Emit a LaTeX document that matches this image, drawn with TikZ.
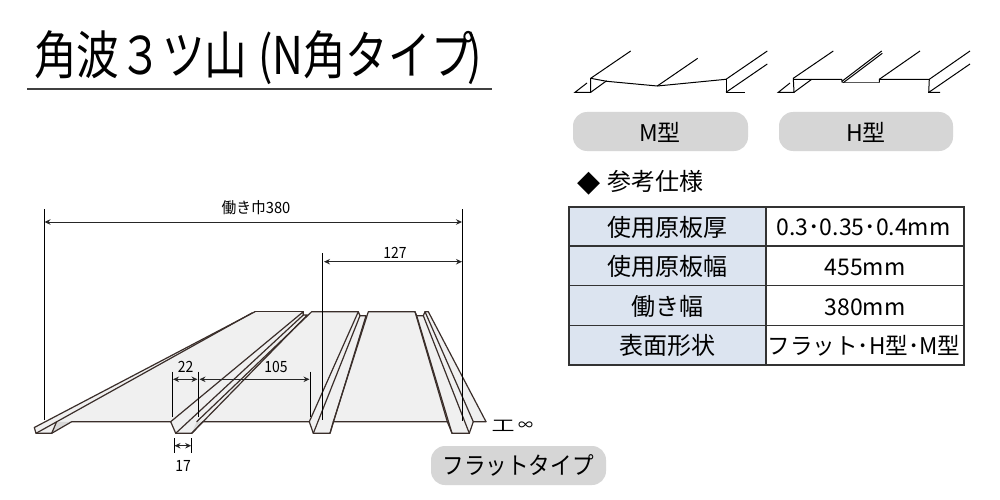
\documentclass[tikz,border=0pt]{standalone}
\usepackage{fontspec}
\usepackage{graphicx}
\setmainfont{Noto Sans CJK JP}
\usetikzlibrary{arrows.meta}
\definecolor{ink}{HTML}{3A2E2A}
\definecolor{panelgray}{HTML}{F0F0F0}
\definecolor{wedgegray}{HTML}{D8D8D8}
\definecolor{pillgray}{HTML}{D6D6D6}
\definecolor{headblue}{HTML}{DCE4F0}
\newcommand{\nx}[2]{\scalebox{#1}[1]{#2}}
\tikzset{
  x=1pt,y=-1pt,
  lab/.style={inner sep=0pt,anchor=base,text=black},
  sheet/.style={draw=ink,line width=1.2pt,line join=round,line cap=round},
  thin sketch/.style={draw=black,line width=1pt,line join=miter},
  extline/.style={draw=black,line width=1pt},
  dimline/.style={draw=black!85,line width=1pt,{Stealth[length=6pt,width=5.5pt]}-{Stealth[length=6pt,width=5.5pt]}},
  pill/.style={fill=pillgray,rounded corners=14pt},
  cellhead/.style={fill=headblue,draw=black!80,line width=1.4pt},
  cell/.style={fill=white,draw=black!80,line width=1.4pt},
}
\begin{document}
\begin{tikzpicture}
\useasboundingbox (0,0) rectangle (1000,500);
\fill[white] (0,0) rectangle (1000,500);
% title
\node[lab,anchor=base west] (title) at (34,75) {\nx{0.82}{\fontsize{52}{52}\selectfont 角波３ツ山\hspace{13pt}(N角タイプ\hspace{-8pt})}};
\coordinate (tl) at (27,89); \coordinate (tr) at (492,89);
\draw[draw=black!75,line width=1.3pt] (tl) -- (tr);
% panel fill
\fill[panelgray] (34.3,427.5) -- (255,311.7) -- (303.3,311.7) -- (303.3,315) -- (307.3,315) -- (311.7,311.7) -- (358.3,311.7) -- (360,315.7) -- (366,315.7) -- (368.3,311.7) -- (415,311.7) -- (416.7,315.7) -- (423.3,315.7) -- (425,311.7) -- (428.3,311.7) -- (486,421.7) -- (473.3,421.7) -- (469.3,433.3) -- (452,433.3) -- (447.3,421.7) -- (333.3,421.7) -- (330,433.3) -- (313.3,433.3) -- (309.3,421.7) -- (203,421.7) -- (191.7,433.3) -- (175.7,433.3) -- (170.7,421.7) -- (71.7,421.7) -- (51.7,433.3) -- (36,433.3) -- cycle;
\fill[wedgegray] (56.5,422) -- (51.7,433.3) -- (71.7,421.7) -- cycle;
\fill[wedgegray] (196.7,421.7) -- (191.7,433.3) -- (203,421.7) -- cycle;
% left rib
\draw[sheet] (255,311.7) -- (34.3,427.5) -- (36,433.3) -- (51.7,433.3) -- (71.7,421.7) -- (170.7,421.7) -- (175.7,433.3) -- (191.7,433.3) -- (203,421.7) -- (309.3,421.7) -- (313.3,433.3) -- (330,433.3) -- (333.3,421.7) -- (447.3,421.7) -- (452,433.3) -- (469.3,433.3) -- (473.3,421.7) -- (486,421.7);
\draw[sheet] (36,433.3) -- (252,313);
\draw[sheet] (51.7,433.3) -- (56.5,422);
\draw[sheet] (255,311.7) -- (303.3,311.7);
% rib 2
\draw[sheet] (170.7,421.7) -- (303.3,311.7) -- (303.3,315) -- (175.7,433.3);
\draw[sheet] (303.3,315) -- (307.3,315) -- (191.7,433.3);
\draw[sheet] (196.7,421.7) -- (311.7,311.7) -- (358.3,311.7);
% rib 3
\draw[sheet] (309.3,421.7) -- (358.3,311.7) -- (360,315.7) -- (313.3,433.3);
\draw[sheet] (360,315.7) -- (366,315.7) -- (330,433.3);
\draw[sheet] (333.3,421.7) -- (368.3,311.7) -- (415,311.7) -- (447.3,421.7);
% rib 4
\draw[sheet] (415,311.7) -- (416.7,315.7) -- (452,433.3);
\draw[sheet] (416.7,315.7) -- (423.3,315.7) -- (469.3,433.3);
\draw[sheet] (423.3,315.7) -- (425,311.7) -- (473.3,421.7);
\draw[sheet] (425,311.7) -- (428.3,311.7) -- (486,421.7);
% dimensions
\coordinate (a1) at (44,209); \coordinate (a2) at (44,420);
\coordinate (b1) at (462.3,209); \coordinate (b2) at (462.3,420.7);
\coordinate (c1) at (322.3,253); \coordinate (c2) at (322.3,420);
\draw[extline] (a1) -- (a2);
\draw[extline] (b1) -- (b2);
\draw[extline] (c1) -- (c2);
\coordinate (aL) at (44.5,222); \coordinate (aR) at (462,222);
\draw[dimline] (aL) -- (aR);
\coordinate (cL) at (324,261.7); \coordinate (cR) at (462,261.7);
\draw[dimline] (cL) -- (cR);
\node[lab] (w380) at (256,213) {\nx{0.95}{\fontsize{15.5}{16}\selectfont 働き巾380}};
\node[lab] (w127) at (395,258) {\nx{0.9}{\fontsize{15.5}{16}\selectfont 127}};
\coordinate (d1) at (172.7,371.7); \coordinate (d2) at (172.7,416.7);
\coordinate (e1) at (198,371.7); \coordinate (e2) at (198,416.7);
\coordinate (f1) at (310,371.7); \coordinate (f2) at (310,417);
\draw[extline] (d1) -- (d2);
\draw[extline] (e1) -- (e2);
\draw[extline] (f1) -- (f2);
\coordinate (dL) at (173,379.3); \coordinate (dR) at (197.5,379.3);
\coordinate (eL) at (199.5,379.3); \coordinate (eR) at (309.5,379.3);
\draw[dimline] (dL) -- (dR);
\draw[dimline] (eL) -- (eR);
\node[lab] (w22) at (185.5,372) {\nx{0.9}{\fontsize{15.5}{16}\selectfont 22}};
\node[lab] (w105) at (276,372) {\nx{0.9}{\fontsize{15.5}{16}\selectfont 105}};
\coordinate (g1) at (174,438); \coordinate (g2) at (174,453);
\coordinate (h1) at (191.7,438); \coordinate (h2) at (191.7,453);
\draw[extline] (g1) -- (g2);
\draw[extline] (h1) -- (h2);
\coordinate (gL) at (174.5,445.7); \coordinate (gR) at (191.2,445.7);
\draw[dimline] (gL) -- (gR);
\node[lab] (w17) at (183,471) {\nx{0.9}{\fontsize{15.5}{16}\selectfont 17}};
\node[lab,anchor=base west] (thick) at (491.5,431.5) {\scalebox{1.15}[0.78]{\fontsize{20}{20}\selectfont 工}\hspace{3.5pt}\raisebox{1pt}{\fontsize{15}{15}\selectfont ∞}};
% pills
\fill[pill] (431,446) rectangle (606,485);
\node[lab] (flat) at (518,474) {\nx{0.9}{\fontsize{24}{24}\selectfont フラットタイプ}};
\fill[pill] (573,112) rectangle (748,151);
\node[lab] (mtype) at (660,141) {\fontsize{23}{23}\selectfont M型};
\fill[pill] (779,112) rectangle (953,151);
\node[lab] (htype) at (866,141) {\fontsize{23}{23}\selectfont H型};
% M sketch
\coordinate (m1) at (590.7,78.3); \coordinate (m2) at (630.7,51);
\coordinate (m3) at (590.7,92.3); \coordinate (m4) at (575,92.3); \coordinate (m5) at (587,83);
\coordinate (m6) at (606.7,80.7); \coordinate (m7) at (606.7,81.3);
\coordinate (m8) at (657.3,86); \coordinate (m9) at (697.7,58.3);
\coordinate (m10) at (726,79.3); \coordinate (m11) at (767.3,51);
\coordinate (m12) at (726,92.3); \coordinate (m13) at (745,92.3); \coordinate (m14) at (767.3,64);
\draw[thin sketch] (m2) -- (m1) -- (m3) -- (m4) -- (m5);
\draw[thin sketch] (m3) -- (m6);
\draw[thin sketch] (m1) -- (m7) -- (m8) -- (m10) -- (m11);
\draw[thin sketch] (m8) -- (m9);
\draw[thin sketch] (m10) -- (m12) -- (m13);
\draw[thin sketch] (m12) -- (m14);
% H sketch
\coordinate (h01) at (793.3,78.3); \coordinate (h02) at (833.3,51);
\coordinate (h03) at (794,92.3); \coordinate (h04) at (778.3,92.3); \coordinate (h05) at (790,83);
\coordinate (h06) at (811.7,79.3); \coordinate (h07) at (841.7,79.3);
\coordinate (h08) at (842.3,82.7); \coordinate (h09) at (879.3,82.7); \coordinate (h10) at (879.3,79.3);
\coordinate (h11) at (929.3,79.3); \coordinate (h12) at (881.7,51); \coordinate (h13) at (882.3,53.3);
\coordinate (h14) at (920,51); \coordinate (h15) at (970,51); \coordinate (h16) at (928.7,92.3);
\coordinate (h17) at (940,92.3); \coordinate (h18) at (970,64);
\draw[thin sketch] (h02) -- (h01) -- (h03) -- (h04) -- (h05);
\draw[thin sketch] (h03) -- (h06);
\draw[thin sketch] (h01|-h07) -- (h07) -- (h08);
\draw[draw=black!65,line width=1.2pt] (h08) -- (h09);
\draw[thin sketch] (h09) -- (h10) -- (h11) -- (h15);
\draw[thin sketch] (h10) -- (h14);
\draw[thin sketch] (841.7,81.5) -- (h12);
\draw[thin sketch] (843.3,82.7) -- (h13);
\draw[thin sketch] (h11) -- (h16) -- (h17);
\draw[thin sketch] (929.3,92) -- (h18);
% spec heading
\node[lab,anchor=base west] (spec) at (577,190) {{\fontsize{30}{30}\fontspec{DejaVu Sans}\raisebox{-1pt}{\symbol{"25C6}}}\hspace{7pt}{\fontsize{24}{24}\selectfont 参考仕様}};
% table
\draw[cellhead] (569,207) rectangle (766,246);
\draw[cellhead] (569,246) rectangle (766,285.7);
\draw[cellhead] (569,285.7) rectangle (766,325.3);
\draw[cellhead] (569,325.3) rectangle (766,365);
\draw[cell] (766,207) rectangle (964,246);
\draw[cell] (766,246) rectangle (964,285.7);
\draw[cell] (766,285.7) rectangle (964,325.3);
\draw[cell] (766,325.3) rectangle (964,365);
\node[lab] (t1a) at (667,236) {\fontsize{24}{24}\selectfont 使用原板厚};
\node[lab] (t2a) at (667,275) {\fontsize{24}{24}\selectfont 使用原板幅};
\node[lab] (t3a) at (667,315) {\fontsize{24}{24}\selectfont 働き幅};
\node[lab] (t4a) at (667,354) {\fontsize{24}{24}\selectfont 表面形状};
\node[lab] (t1b) at (863.5,235) {\fontsize{23}{23}\selectfont 0.3･0.35･0.4mm};
\node[lab] (t2b) at (865,275) {\fontsize{23}{23}\selectfont 455mm};
\node[lab] (t3b) at (865,315) {\fontsize{23}{23}\selectfont 380mm};
\node[lab] (t4b) at (864,354) {\nx{0.98}{\fontsize{23}{23}\selectfont フラット･H型･M型}};
\end{tikzpicture}
\end{document}
